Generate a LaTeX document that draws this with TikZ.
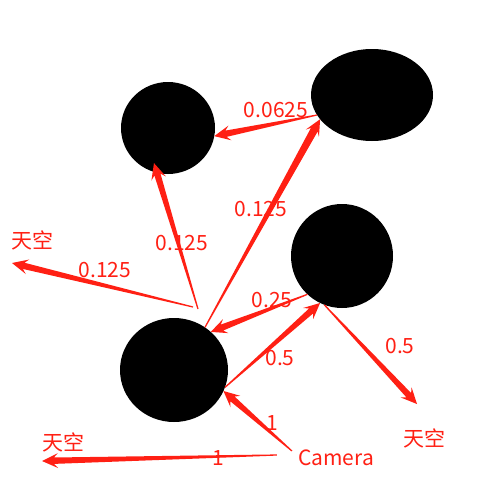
\documentclass[tikz,border=0pt]{standalone}
\usepackage{fontspec}
\setmainfont{Noto Sans CJK SC}
\usetikzlibrary{calc,shapes.geometric}
\definecolor{rayred}{RGB}{255,32,20}
\tikzset{ball/.style={ellipse, fill=black, inner sep=0pt, outer sep=0pt},
  lbl/.style={text=rayred, inner sep=1pt, font=\fontsize{21}{25}\selectfont}}
% tapered light ray: [half width at head] start, tip
\newcommand{\lightray}[3][3.2]{%
  \coordinate (rs) at (#2);
  \coordinate (rt) at (#3);
  \coordinate (rb) at ($(rt)!12pt!(rs)$);
  \coordinate (rh) at ($(rt)!16pt!(rs)$);
  \fill[rayred] ($(rs)!0.6pt!90:(rt)$) -- ($(rb)!#1pt!90:(rt)$)
    -- ($(rh)!7.5pt!90:(rt)$) -- (rt) -- ($(rh)!7.5pt!-90:(rt)$)
    -- ($(rb)!#1pt!-90:(rt)$) -- ($(rs)!0.6pt!-90:(rt)$) -- cycle;}

\begin{document}
\begin{tikzpicture}[x=1pt,y=-1pt]
\useasboundingbox[fill=white] (0,0) rectangle (477,479);
% spheres
\node[ball, minimum width=94pt, minimum height=92pt] (e1) at (168,128) {};
\node[ball, minimum width=122pt, minimum height=92pt] (e2) at (372,95) {};
\node[ball, minimum width=102pt, minimum height=104pt] (e3) at (342,256) {};
\node[ball, minimum width=108pt, minimum height=104pt] (e4) at (174,370) {};
% texts
\node[lbl] (cam) at (336,458) {Camera};
\node[lbl] (sky0) at (33,240) {天空};
\node[lbl] (sky1) at (63,442) {天空};
\node[lbl] (sky2) at (424,438) {天空};
\coordinate (sky0tip) at (12,263);
\coordinate (sky1tip) at (42,461);
\coordinate (sky2tip) at (417,404);
\coordinate (hitA) at (198,309);
\coordinate (hitB) at (193,307);
% rays
\lightray{$(cam.west)+(-5,-7)$}{e4.-23}
\lightray{$(cam.west)+(-20,-3)$}{sky1tip}
\lightray{e4.-19}{e3.245}
\lightray{e3.228}{e4.46}
\lightray{e3.250}{sky2tip}
\lightray{hitA}{$(e1.256)!-10pt!(hitA)$}
\lightray{hitB}{sky0tip}
\lightray[3.8]{e4.54}{e2.205}
\lightray{e2.200}{e1.-10}
% weights
\node[lbl] (w1) at (272,423) {1};
\node[lbl] (w2) at (218,458) {1};
\node[lbl] (w3) at (280,358) {0.5};
\node[lbl] (w4) at (272,300) {0.25};
\node[lbl] (w5) at (400,346) {0.5};
\node[lbl] (w6) at (182,243) {0.125};
\node[lbl] (w7) at (105,270) {0.125};
\node[lbl] (w8) at (261,209) {0.125};
\node[lbl] (w9) at (276,110) {0.0625};
\end{tikzpicture}
\end{document}
